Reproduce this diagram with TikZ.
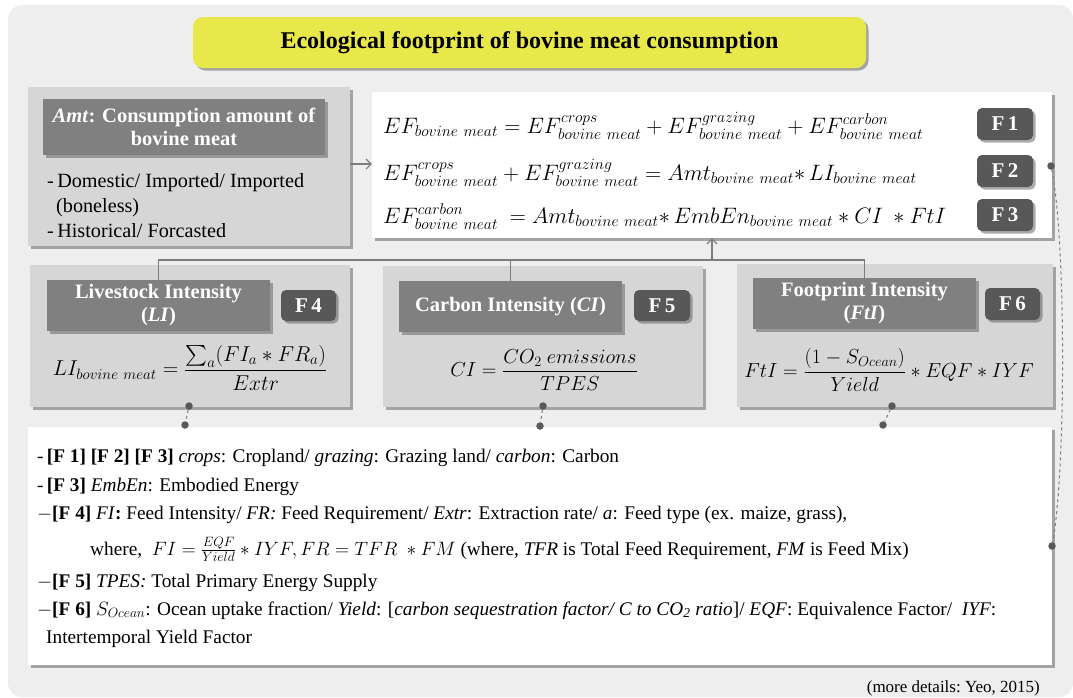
\RequirePackage{fix-cm}
\documentclass[tikz,border=0pt]{standalone}
\usepackage{amsmath}
\usepackage{fontspec}
\setmainfont{Liberation Serif}
\usetikzlibrary{shadows,arrows.meta,calc}
\definecolor{bgc}{RGB}{238,238,238}
\definecolor{boxc}{RGB}{214,214,214}
\definecolor{headc}{RGB}{128,128,128}
\definecolor{badgec}{RGB}{88,88,88}
\definecolor{titlec}{RGB}{232,232,74}
\definecolor{linec}{RGB}{125,125,125}
\newcommand{\bm}{bovine\ meat}
\tikzset{
  shad/.style={drop shadow={shadow xshift=2.5pt,shadow yshift=-2.5pt,fill=black!60,opacity=.55}},
  graybox/.style={fill=boxc,draw=none,shad,inner sep=0pt},
  whitebox/.style={fill=white,draw=none,shad,inner sep=0pt},
  headbox/.style={fill=headc,draw=none,shad,text=white,font=\fontsize{20.5}{23}\selectfont\bfseries,align=center,inner sep=0pt},
  badge/.style={fill=badgec,draw=none,rounded corners=5pt,shad,text=white,font=\fontsize{21}{24}\selectfont\bfseries,minimum width=56pt,minimum height=32pt,inner sep=0pt},
  titlebox/.style={fill=titlec,draw=none,rounded corners=10pt,shad,font=\fontsize{24}{28}\selectfont\bfseries,inner sep=0pt},
  conn/.style={draw=linec,line width=1.1pt},
  dotc/.style={circle,fill=black!65,draw=none,minimum size=7.5pt,inner sep=0pt},
  txt/.style={font=\fontsize{20.2}{24}\selectfont,inner sep=0pt},
  mtxt/.style={font=\fontsize{21.5}{24}\selectfont,inner sep=0pt},
  ntxt/.style={font=\fontsize{19.3}{22}\selectfont,inner sep=0pt,anchor=base west},
  eq/.style={font=\fontsize{22.3}{25}\selectfont,inner sep=0pt,anchor=base west},
}
\begin{document}
\begin{tikzpicture}[x=1pt,y=-1pt]
\useasboundingbox (0,0) rectangle (1073,697);
\fill[white] (0,0) rectangle (1073,697);
\fill[bgc,rounded corners=14pt] (8,5) rectangle (1073,697);

% title
\node[titlebox,minimum width=673pt,minimum height=51pt] (title) at (529.5,42.5) {Ecological footprint of bovine meat consumption};

% Amt box
\node[graybox,minimum width=322pt,minimum height=159pt] (amt) at (189,166.5) {};
\node[headbox,minimum width=282pt,minimum height=56pt] (amth) at (184,127) {\textit{Amt}: Consumption amount of\\ bovine meat};
\node[txt,anchor=base west] (amt1) at (47,187) {-\,Domestic/ Imported/ Imported};
\node[txt,anchor=base west] (amt2) at (56,212) {(boneless)};
\node[txt,anchor=base west] (amt3) at (47,237) {-\,Historical/ Forcasted};

% formula box
\node[whitebox,minimum width=680pt,minimum height=146pt] (fbox) at (712,165) {};
\node[badge] (f1) at (1005,124) {F\,1};
\node[badge] (f2) at (1005,171) {F\,2};
\node[badge] (f3) at (1005,215) {F\,3};
\node[eq] (eq1) at (383,133) {$EF_{\bm} = EF^{crops}_{\bm} + EF^{grazing}_{\bm} + EF^{carbon}_{\bm}$};
\node[eq] (eq2) at (383,180) {$EF^{crops}_{\bm} + EF^{grazing}_{\bm} = Amt_{\bm} {*}\, LI_{\bm}$};
\node[eq] (eq3) at (383,223) {$EF^{carbon}_{\bm}\ = Amt_{\bm} {*}\, EmbEn_{\bm} * CI\ * FtI$};

\draw[conn,-{Straight Barb[length=5pt,width=10pt]}] (amt.east |- 0,164) -- (fbox.west |- 0,164);

% LI box
\node[graybox,minimum width=320pt,minimum height=142pt] (li) at (190,336) {};
\node[headbox,minimum width=223pt,minimum height=51pt] (lih) at (158.5,305.5) {Livestock Intensity\\ (\textit{LI})};
\node[badge,minimum width=55pt,minimum height=31pt] (f4) at (308.5,305.5) {F\,4};
\node[mtxt] (lieq) at (190,368) {$LI_{\bm} = \dfrac{\sum_a (FI_a * FR_a)}{Extr}$};

% CI box
\node[graybox,minimum width=320pt,minimum height=141pt] (ci) at (543,336.5) {};
\node[headbox,minimum width=223pt,minimum height=51pt] (cih) at (510.5,306.5) {Carbon Intensity (\textit{CI})};
\node[badge,minimum width=56pt,minimum height=31pt] (f5) at (662,305.5) {F\,5};
\node[mtxt,font=\fontsize{20.3}{24}\selectfont] (cieq) at (544,370) {$CI = \dfrac{CO_2\ emissions}{TPES}$};

% FtI box
\node[graybox,minimum width=316pt,minimum height=143pt] (fti) at (895,335.5) {};
\node[headbox,minimum width=223pt,minimum height=51pt] (ftih) at (864.5,303.5) {Footprint Intensity\\ (\textit{FtI})};
\node[badge,minimum width=55pt,minimum height=32pt] (f6) at (1012.5,304) {F\,6};
\node[mtxt,font=\fontsize{20.3}{24}\selectfont] (ftieq) at (889,370) {$FtI = \dfrac{(1-S_{Ocean})}{Yield} * EQF * IYF$};

% tree connector
\coordinate (hub) at (712,260);
\draw[conn] (lih.north) |- (hub) -| (ftih.north);
\draw[conn] (cih.north) -- (cih.north |- hub);
\draw[conn,-{Straight Barb[length=5pt,width=10pt]}] (hub) -- (fbox.south);

% notes box
\node[whitebox,minimum width=1024pt,minimum height=238pt] (notes) at (540,546) {};
\node[ntxt] (n1) at (37,462) {-\,\textbf{[F 1] [F 2] [F 3]} \textit{crops}: Cropland/ \textit{grazing}: Grazing land/ \textit{carbon}: Carbon};
\node[ntxt] (n2) at (37,491) {-\,\textbf{[F 3]} \textit{EmbEn}: Embodied Energy};
\node[ntxt] (n3) at (37,519) {$-$\textbf{[F 4]} \textit{FI}\textbf{:} Feed Intensity/ \textit{FR:} Feed Requirement/ \textit{Extr}: Extraction rate/ \textit{a}: Feed type (ex. maize, grass),};
\node[ntxt] (n4) at (90,555) {where,\ \ $FI = \frac{EQF}{Yield} * IYF, FR = TFR\ * FM$ (where, \textit{TFR} is Total Feed Requirement, \textit{FM} is Feed Mix)};
\node[ntxt] (n5) at (37,587) {$-$\textbf{[F 5]} \textit{TPES:} Total Primary Energy Supply};
\node[ntxt] (n6) at (37,615) {$-$\textbf{[F 6]} $S_{Ocean}$: Ocean uptake fraction/ \textit{Yield}: [\textit{carbon sequestration factor/ C to CO\textsubscript{2} ratio}]/ \textit{EQF}: Equivalence Factor/ \ \textit{IYF}:};
\node[ntxt] (n7) at (46,643) {Intertemporal Yield Factor};

% dots linking intensity boxes to notes
\node[dotc] (d1a) at (189,406) {};
\node[dotc] (d1b) at (185,425) {};
\draw[linec,line width=1pt,dashed] (d1a) -- (d1b);
\node[dotc] (d2a) at (543,406) {};
\node[dotc] (d2b) at (540,426) {};
\draw[linec,line width=1pt,dashed] (d2a) -- (d2b);
\node[dotc] (d3a) at (892,406) {};
\node[dotc] (d3b) at (883,425) {};
\draw[linec,line width=1pt,dashed] (d3a) -- (d3b);

% right dashed curve
\node[dotc] (r1) at (1051,166) {};
\node[dotc] (r2) at (1052,546) {};
\draw[linec,line width=1pt,dashed] (r1) .. controls (1066,240) and (1066,470) .. (r2);

% source
\node[font=\fontsize{17}{20}\selectfont,inner sep=0pt,anchor=base east] (src) at (1040,692) {(more details:\ Yeo, 2015)};
\end{tikzpicture}
\end{document}
